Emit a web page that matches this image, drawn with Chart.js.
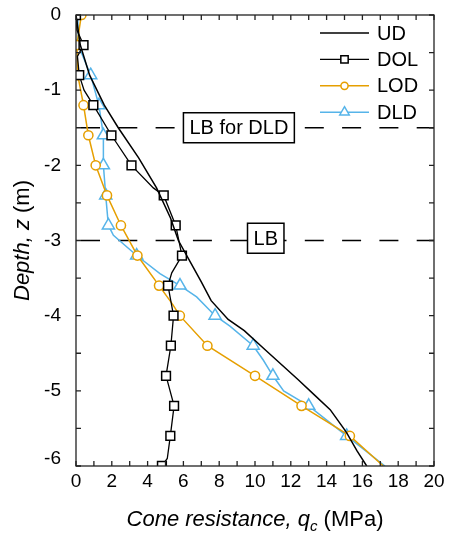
<!DOCTYPE html>
<html><head><meta charset="utf-8">
<script src="https://cdn.jsdelivr.net/npm/chart.js@4/dist/chart.umd.min.js"></script>
<style>html,body{margin:0;padding:0;background:#fff}canvas{display:block}</style>
</head><body><canvas id="c" width="451" height="536"></canvas>
<script>
// ---- data (depth in m, cone resistance qc in MPa) ----
const seriesNames = ['UD', 'DOL', 'LOD', 'DLD'];
const udDepth  = [0, -0.4, -0.8, -1.2, -1.5, -1.9, -2.3, -2.7, -3.0, -3.3, -3.55, -3.8, -4.05, -4.2, -4.45, -4.85, -5.05, -5.25, -5.55, -5.8, -6.0];
const udQc     = [0, 0.24, 0.76, 1.58, 2.36, 3.5, 4.5, 5.28, 5.72, 6.42, 7.0, 7.55, 8.5, 9.4, 10.55, 12.4, 13.3, 14.2, 15.1, 15.7, 16.24];
const dolDepth = [0, -0.2, -0.4, -0.55, -0.8, -1.0, -1.2, -1.6, -2.0, -2.3, -2.4, -2.8, -3.2, -3.43, -3.6, -4.0, -4.4, -4.8, -5.2, -5.6, -5.9, -6.0];
const dolQc    = [0, 0.05, 0.42, 0.08, 0.18, 0.45, 0.97, 1.98, 3.1, 4.32, 4.9, 5.57, 5.92, 5.35, 5.14, 5.45, 5.3, 5.03, 5.48, 5.27, 5.1, 4.8];
const lodDepth = [0, -0.4, -0.8, -1.2, -1.6, -2.0, -2.4, -2.8, -3.2, -3.6, -3.85, -4.0, -4.4, -4.8, -5.2, -5.6, -6.0];
const lodQc    = [0.3, 0.05, 0.1, 0.42, 0.69, 1.1, 1.73, 2.51, 3.43, 4.64, 5.4, 5.8, 7.34, 10.0, 12.6, 15.3, 17.17];
const dldDepth = [0, -0.4, -0.8, -1.2, -1.6, -2.0, -2.4, -2.8, -2.93, -3.2, -3.44, -3.6, -3.75, -4.0, -4.14, -4.4, -4.59, -4.8, -5.0, -5.2, -5.6, -6.0];
const dldQc    = [0.1, 0.13, 0.82, 1.28, 1.53, 1.53, 1.66, 1.81, 2.09, 3.39, 4.69, 5.81, 6.74, 7.77, 8.6, 9.9, 10.46, 11.0, 11.6, 13.0, 15.12, 17.26];
const boundaryDepths = [-1.5, -3.0];
const boxLabels = ['LB for DLD', 'LB'];
const boxQc     = [9.1, 10.6];
const boxDepth  = [-1.5, -2.97];
const xTickValues = [0, 2, 4, 6, 8, 10, 12, 14, 16, 18, 20];
const xTickLabels = ['0', '2', '4', '6', '8', '10', '12', '14', '16', '18', '20'];
const yTickValues = [0, -1, -2, -3, -4, -5, -6];
const yTickLabels = ['0', '-1', '-2', '-3', '-4', '-5', '-6'];

const FONT = "'Liberation Sans', Arial, sans-serif";
const pts = (d, q) => d.map((v, i) => ({x: q[i], y: v}));
const onGrid = (v) => Math.abs(v / 0.4 - Math.round(v / 0.4)) < 1e-6;
const markerR = (r, withLast) => (ctx) => {
  const v = ctx.raw ? ctx.raw.y : 0;
  if (!onGrid(v)) return 0;
  if (!withLast && v <= -5.999) return 0;
  return r;
};

const datasets = [
  {label: seriesNames[0], data: pts(udDepth, udQc), borderColor: '#000', borderWidth: 1.5, pointRadius: 0, mk: null},
  {label: seriesNames[1], data: pts(dolDepth, dolQc), borderColor: '#000', borderWidth: 1.3,
   pointStyle: 'rect', pointRadius: markerR(6.2, true), pointBackgroundColor: '#fff', pointBorderColor: '#000', pointBorderWidth: 1.5, mk: 'rect'},
  {label: seriesNames[2], data: pts(lodDepth, lodQc), borderColor: '#E69F00', borderWidth: 1.5,
   pointStyle: 'circle', pointRadius: markerR(4.6, false), pointBackgroundColor: '#fff', pointBorderColor: '#E69F00', pointBorderWidth: 1.5, mk: 'circle'},
  {label: seriesNames[3], data: pts(dldDepth, dldQc), borderColor: '#56B4E9', borderWidth: 1.5,
   pointStyle: 'triangle', pointRadius: markerR(7, false), pointBackgroundColor: '#fff', pointBorderColor: '#56B4E9', pointBorderWidth: 1.5, mk: 'triangle'}
];

const deco = {
  id: 'deco',
  beforeDatasetsDraw(chart) {
    const {ctx, chartArea: a, scales: {y}} = chart;
    ctx.save();
    ctx.strokeStyle = '#000'; ctx.lineWidth = 1.6;
    ctx.setLineDash([19, 18.3]); ctx.lineDashOffset = 32.3;
    boundaryDepths.forEach(d => {
      const py = y.getPixelForValue(d);
      ctx.beginPath(); ctx.moveTo(a.left, py); ctx.lineTo(a.right, py); ctx.stroke();
    });
    ctx.restore();
  },
  afterDatasetsDraw(chart) {
    const {ctx, chartArea: a, scales: {x, y}} = chart;
    ctx.save();
    // annotation boxes
    ctx.font = `20px ${FONT}`;
    ctx.textAlign = 'center'; ctx.textBaseline = 'middle';
    boxLabels.forEach((t, i) => {
      const cx = x.getPixelForValue(boxQc[i]), cy = y.getPixelForValue(boxDepth[i]);
      const w = ctx.measureText(t).width + 12, h = 30;
      ctx.fillStyle = '#fff'; ctx.fillRect(cx - w / 2, cy - h / 2, w, h);
      ctx.strokeStyle = '#000'; ctx.lineWidth = 1.5; ctx.strokeRect(cx - w / 2, cy - h / 2, w, h);
      ctx.fillStyle = '#000'; ctx.fillText(t, cx, cy + 1);
    });
    // frame
    ctx.strokeStyle = '#222'; ctx.lineWidth = 1.3;
    ctx.strokeRect(a.left, a.top, a.right - a.left, a.bottom - a.top);
    // ticks (inward)
    ctx.beginPath();
    for (let v = x.min; v <= x.max + 1e-9; v += 1) {
      const px = x.getPixelForValue(v);
      ctx.moveTo(px, a.bottom); ctx.lineTo(px, a.bottom - 5);
      ctx.moveTo(px, a.top); ctx.lineTo(px, a.top + 5);
    }
    for (let v = y.min; v <= y.max + 1e-9; v += 0.5) {
      const py = y.getPixelForValue(v);
      ctx.moveTo(a.left, py); ctx.lineTo(a.left + 5, py);
      ctx.moveTo(a.right, py); ctx.lineTo(a.right - 5, py);
    }
    ctx.stroke();
    // tick labels
    ctx.fillStyle = '#000';
    ctx.font = `19px ${FONT}`;
    ctx.textAlign = 'center'; ctx.textBaseline = 'middle';
    xTickValues.forEach((v, i) => ctx.fillText(xTickLabels[i], x.getPixelForValue(v), a.bottom + 16));
    ctx.textAlign = 'right';
    yTickValues.forEach((v, i) => {
      let py = y.getPixelForValue(v);
      if (v === y.min) py -= 7;
      ctx.fillText(yTickLabels[i], a.left - 15, py);
    });
    // legend
    ctx.font = `20px ${FONT}`;
    ctx.textAlign = 'left'; ctx.textBaseline = 'middle';
    chart.data.datasets.forEach((ds, i) => {
      const ly = 33 + i * 26.4, x0 = 320, x1 = 369;
      ctx.strokeStyle = ds.borderColor; ctx.lineWidth = ds.borderWidth; ctx.setLineDash([]);
      ctx.beginPath(); ctx.moveTo(x0, ly); ctx.lineTo(x1, ly); ctx.stroke();
      if (ds.mk) {
        const r = ds.mk === 'triangle' ? 5.5 : (ds.mk === 'rect' ? 5.2 : 3.6);
        ctx.fillStyle = '#fff'; ctx.strokeStyle = ds.pointBorderColor; ctx.lineWidth = 1.5;
        Chart.helpers.drawPoint(ctx, {pointStyle: ds.mk, rotation: 0, borderWidth: 1.5, radius: r}, (x0 + x1) / 2, ly);
      }
      ctx.fillStyle = '#000';
      ctx.fillText(ds.label, 377, ly + 1);
    });
    // axis titles
    const drawRuns = (runs, startX, baseY) => {
      let cx = startX;
      runs.forEach(r => { ctx.font = r.f; ctx.fillText(r.t, cx, baseY + (r.dy || 0)); cx += ctx.measureText(r.t).width; });
      return cx - startX;
    };
    ctx.textBaseline = 'alphabetic'; ctx.textAlign = 'left';
    const xRuns = [
      {t: 'Cone resistance, ', f: `italic 22px ${FONT}`},
      {t: 'q', f: `italic 22px ${FONT}`},
      {t: 'c', f: `italic 15px ${FONT}`, dy: 5},
      {t: ' (MPa)', f: `22px ${FONT}`}
    ];
    let wsum = 0;
    xRuns.forEach(r => { ctx.font = r.f; wsum += ctx.measureText(r.t).width; });
    drawRuns(xRuns, (a.left + a.right) / 2 - wsum / 2, 526);
    const yRuns = [
      {t: 'Depth, z', f: `italic 22px ${FONT}`},
      {t: ' (m)', f: `22px ${FONT}`}
    ];
    let ws = 0;
    yRuns.forEach(r => { ctx.font = r.f; ws += ctx.measureText(r.t).width; });
    ctx.save();
    ctx.translate(29, (a.top + a.bottom) / 2);
    ctx.rotate(-Math.PI / 2);
    drawRuns(yRuns, -ws / 2, 0);
    ctx.restore();
    ctx.restore();
  }
};

new Chart(document.getElementById('c'), {
  type: 'line',
  data: {datasets},
  options: {
    responsive: false,
    animation: false,
    devicePixelRatio: 1,
    layout: {padding: {left: 76, top: 15, right: 17, bottom: 70}},
    elements: {line: {tension: 0, fill: false}},
    plugins: {legend: {display: false}, tooltip: {enabled: false}},
    scales: {
      x: {type: 'linear', min: 0, max: 20, display: false},
      y: {type: 'linear', min: -6, max: 0, display: false}
    }
  },
  plugins: [deco]
});
</script>
</body></html>
